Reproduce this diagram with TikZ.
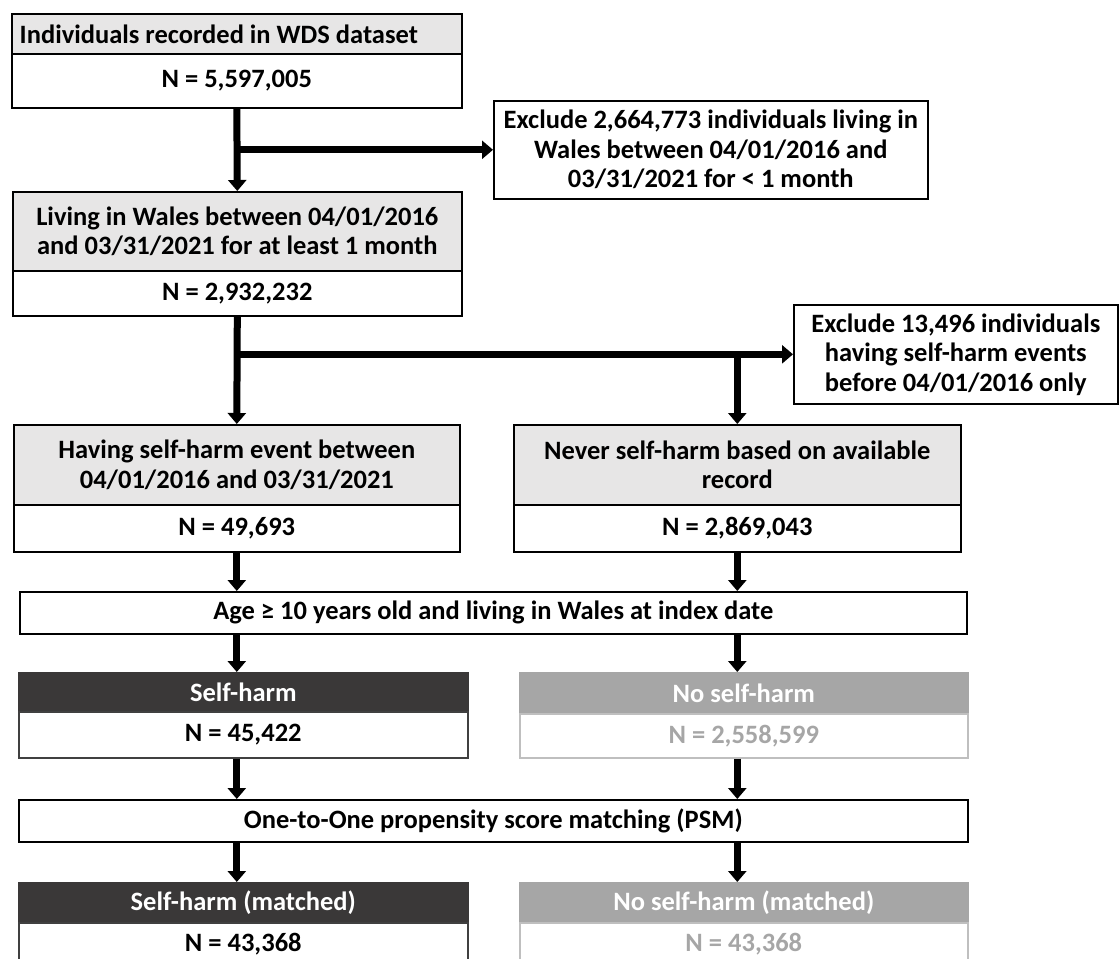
\documentclass[tikz,border=0pt]{standalone}
\usepackage{fontspec}
\setmainfont{Carlito}
\usetikzlibrary{arrows.meta,calc}

\definecolor{headgray}{RGB}{231,230,230}
\definecolor{darkhead}{RGB}{58,56,56}
\definecolor{darkline}{RGB}{64,64,64}
\definecolor{lighthead}{RGB}{166,166,166}
\definecolor{lightline}{RGB}{191,191,191}

\tikzset{
  box/.style={draw,line width=1.6pt,anchor=north west,inner sep=0pt,align=center,
    font=\fontsize{26.5}{29.5}\selectfont\bfseries},
  headbox/.style={box,fill=headgray},
  darkbox/.style={box,draw=darkhead,fill=darkhead,text=white},
  lightbox/.style={box,draw=lighthead,fill=lighthead,text=white},
  flow/.style={line width=7pt,-{Triangle[width=18pt,length=11pt]}},
  flowline/.style={line width=7pt}
}

\begin{document}
\begin{tikzpicture}[x=1pt,y=1pt,yscale=-1]
    \clip (0,0) rectangle (1120,959);

    %Shape: Box [id:wds] 
    \node[headbox,minimum width=450pt,minimum height=40pt] (wdsHead) at (11,13) {Individuals recorded in WDS dataset\hspace*{36pt}};
    \node[box,minimum width=450pt,minimum height=54pt] (wdsN) at (11,53) {N = 5,597,005};

    %Shape: Box [id:excl1] 
    \node[box,minimum width=434pt,minimum height=98pt] (exclA) at (493,100) {Exclude 2,664,773 individuals living in\\Wales between 04/01/2016 and\\03/31/2021 for < 1 month};

    %Shape: Box [id:live] 
    \node[headbox,minimum width=449pt,minimum height=79pt] (liveHead) at (12,191) {Living in Wales between 04/01/2016\\and 03/31/2021 for at least 1 month};
    \node[box,minimum width=449pt,minimum height=45pt] (liveN) at (12,270) {N = 2,932,232};

    %Shape: Box [id:excl2] 
    \node[box,minimum width=324pt,minimum height=99pt] (exclB) at (793,304) {Exclude 13,496 individuals\\having self-harm events\\before 04/01/2016 only};

    %Shape: Box [id:having] 
    \node[headbox,minimum width=446pt,minimum height=80pt] (havHead) at (13,424) {Having self-harm event between\\04/01/2016 and 03/31/2021};
    \node[box,minimum width=446pt,minimum height=47pt] (havN) at (13,504) {N = 49,693};

    %Shape: Box [id:never] 
    \node[headbox,minimum width=447pt,minimum height=80pt] (nevHead) at (513,424) {Never self-harm based on available\\record};
    \node[box,minimum width=447pt,minimum height=47pt] (nevN) at (513,504) {N = 2,869,043};

    %Shape: Box [id:age] 
    \node[box,minimum width=947pt,minimum height=42pt] (age) at (19,591) {Age ≥ 10 years old and living in Wales at index date};

    %Shape: Box [id:selfharm] 
    \node[darkbox,minimum width=449pt,minimum height=39pt] (shHead) at (18,672) {Self-harm};
    \node[box,draw=darkline,minimum width=449pt,minimum height=46pt] (shN) at (18,711) {N = 45,422};

    %Shape: Box [id:noselfharm] 
    \node[lightbox,minimum width=448pt,minimum height=41pt] (nshHead) at (519,672) {No self-harm};
    \node[box,draw=lightline,text=lighthead,minimum width=448pt,minimum height=44pt] (nshN) at (519,713) {N = 2,558,599};

    %Shape: Box [id:psm] 
    \node[box,minimum width=949pt,minimum height=42pt] (psm) at (18,799) {One-to-One propensity score matching (PSM)};

    %Shape: Box [id:matched] 
    \node[darkbox,minimum width=449pt,minimum height=40pt] (shmHead) at (18,882) {Self-harm (matched)};
    \node[box,draw=darkline,minimum width=449pt,minimum height=42pt] (shmN) at (18,922) {N = 43,368};
    \node[lightbox,minimum width=448pt,minimum height=40pt] (nshmHead) at (519,882) {No self-harm (matched)};
    \node[box,draw=lightline,text=lighthead,minimum width=448pt,minimum height=42pt] (nshmN) at (519,922) {N = 43,368};

    %Straight Lines [id:branch1] 
    \coordinate (splitA) at (wdsN.south |- exclA.west);
    \draw[flow] (wdsN.south) -- (liveHead.north);
    \draw[flow] (splitA) -- (exclA.west);

    %Straight Lines [id:branch2] 
    \coordinate (splitB) at (liveN.south |- exclB.west);
    \coordinate (splitC) at (nevHead.north |- exclB.west);
    \draw[flow] (liveN.south) -- (havHead.north);
    \draw[flow] (splitB) -- (exclB.west);
    \draw[flow] (splitC) -- (nevHead.north);

    %Straight Lines [id:toage] 
    \draw[flow] (havN.south) -- (havN.south |- age.north);
    \draw[flow] (nevN.south) -- (nevN.south |- age.north);

    %Straight Lines [id:togroups] 
    \draw[flow] (age.south -| havN.south) -- (havN.south |- shHead.north);
    \draw[flow] (age.south -| nevN.south) -- (nevN.south |- nshHead.north);

    %Straight Lines [id:topsm] 
    \draw[flow] (shN.south -| havN.south) -- (havN.south |- psm.north);
    \draw[flow] (nshN.south -| nevN.south) -- (nevN.south |- psm.north);

    %Straight Lines [id:tomatched] 
    \draw[flow] (psm.south -| havN.south) -- (havN.south |- shmHead.north);
    \draw[flow] (psm.south -| nevN.south) -- (nevN.south |- nshmHead.north);

\end{tikzpicture}
\end{document}
